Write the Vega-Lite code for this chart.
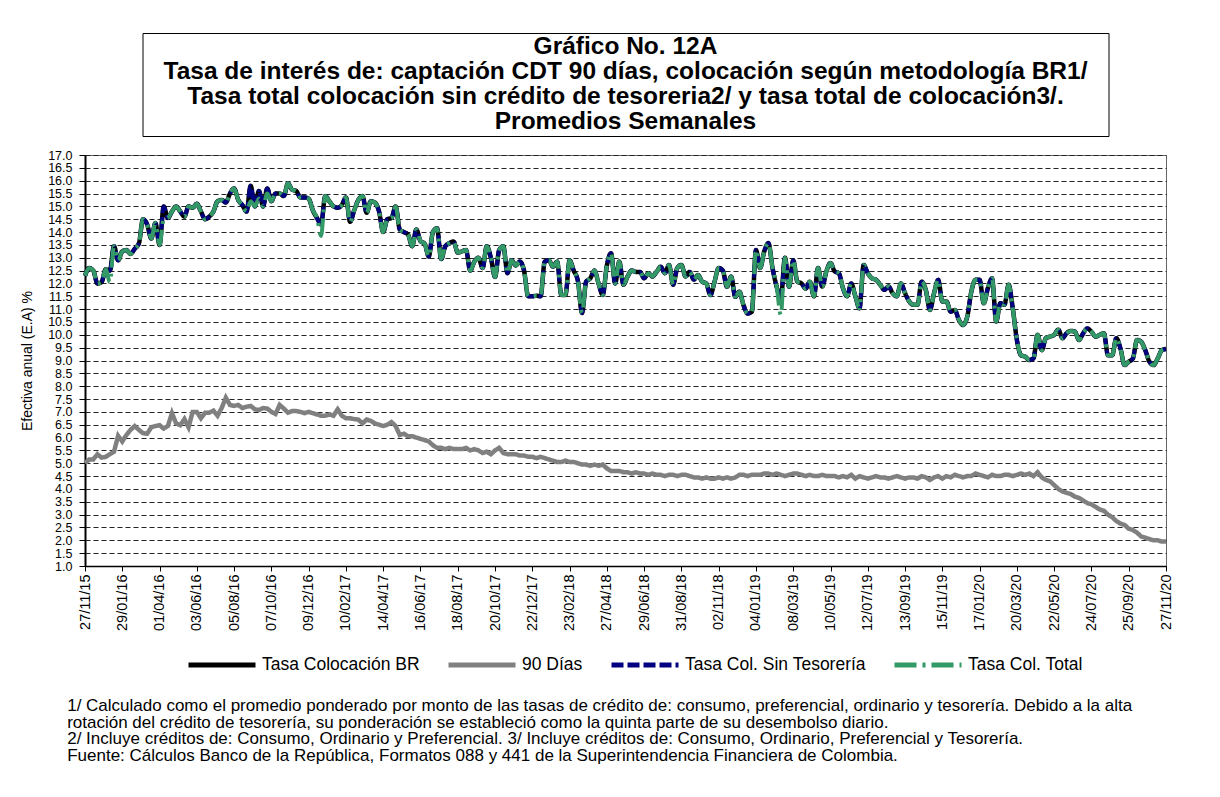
{
  "$schema": "https://vega.github.io/schema/vega-lite/v6.json",
  "padding": {"left": 20, "top": 32, "right": 5, "bottom": 5},
  "background": "white",
  "config": {"font": "Liberation Sans", "view": {"stroke": null}},
  "title": {
    "text": [
      "1/ Calculado como el promedio ponderado por monto de las tasas de crédito de: consumo, preferencial, ordinario y tesorería.  Debido a la alta",
      "rotación del crédito de tesorería,  su ponderación se estableció como la quinta parte de su desembolso diario.",
      "2/ Incluye créditos de: Consumo, Ordinario y Preferencial.   3/ Incluye créditos de: Consumo, Ordinario, Preferencial y Tesorería.",
      "Fuente: Cálculos Banco de la República, Formatos 088 y 441 de la Superintendencia Financiera de Colombia."
    ],
    "orient": "bottom", "anchor": "start", "fontSize": 17, "fontWeight": "normal",
    "lineHeight": 16.7, "offset": 23, "dx": 47, "color": "black", "font": "Liberation Sans"
  },
  "vconcat": [
    {
      "width": 966, "height": 103,
      "view": {"stroke": "black", "strokeWidth": 1},
      "data": {"values": [{"k": 1}]},
      "mark": {
        "type": "text",
        "text": ["Gráfico No. 12A", "Tasa de interés de: captación CDT 90 días,  colocación según metodología BR1/", "Tasa total colocación sin crédito de tesoreria2/ y tasa total de colocación3/.", "Promedios Semanales"],
        "align": "center", "baseline": "middle", "fontSize": 24.5, "fontWeight": "bold",
        "lineHeight": 25, "dy": -37.5, "font": "Liberation Sans", "color": "black"
      },
      "encoding": {}
    },
    {
      "width": 1081, "height": 411,
      "view": {"stroke": "#666", "strokeWidth": 1},
      "data": {"values": [
{"d":"2015-11-27","br":12.3,"st":12.3,"tot":12.3,"n":5.0},
{"d":"2015-12-04","br":12.6,"st":12.6,"tot":12.6,"n":5.15},
{"d":"2015-12-11","br":12.5,"st":12.5,"tot":12.5,"n":5.15},
{"d":"2015-12-18","br":12.0,"st":12.0,"tot":12.0,"n":5.35},
{"d":"2015-12-25","br":12.05,"st":12.05,"tot":12.05,"n":5.22},
{"d":"2016-01-01","br":12.55,"st":12.55,"tot":12.55,"n":5.25},
{"d":"2016-01-08","br":12.5,"st":12.5,"tot":12.05,"n":5.35},
{"d":"2016-01-15","br":13.45,"st":13.45,"tot":13.45,"n":5.45},
{"d":"2016-01-22","br":12.9,"st":12.9,"tot":12.9,"n":6.07},
{"d":"2016-01-29","br":13.25,"st":13.25,"tot":13.25,"n":5.85},
{"d":"2016-02-05","br":13.3,"st":13.3,"tot":13.3,"n":6.1},
{"d":"2016-02-12","br":13.15,"st":13.15,"tot":13.15,"n":6.3},
{"d":"2016-02-19","br":13.35,"st":13.35,"tot":13.35,"n":6.45},
{"d":"2016-02-26","br":13.55,"st":13.55,"tot":13.55,"n":6.3},
{"d":"2016-03-04","br":14.5,"st":14.5,"tot":14.5,"n":6.17},
{"d":"2016-03-11","br":14.3,"st":14.3,"tot":14.3,"n":6.15},
{"d":"2016-03-18","br":13.75,"st":13.75,"tot":13.75,"n":6.4},
{"d":"2016-03-25","br":14.35,"st":14.35,"tot":14.35,"n":6.45},
{"d":"2016-04-01","br":13.5,"st":13.5,"tot":13.5,"n":6.48},
{"d":"2016-04-08","br":15.0,"st":15.0,"tot":14.5,"n":6.35},
{"d":"2016-04-15","br":14.55,"st":14.55,"tot":14.55,"n":6.45},
{"d":"2016-04-22","br":14.8,"st":14.8,"tot":14.8,"n":6.95},
{"d":"2016-04-29","br":15.0,"st":15.0,"tot":15.0,"n":6.55},
{"d":"2016-05-06","br":14.8,"st":14.8,"tot":14.8,"n":6.48},
{"d":"2016-05-13","br":14.6,"st":14.6,"tot":14.6,"n":6.72},
{"d":"2016-05-20","br":15.0,"st":15.0,"tot":15.0,"n":6.4},
{"d":"2016-05-27","br":14.95,"st":14.95,"tot":14.95,"n":7.0},
{"d":"2016-06-03","br":15.1,"st":15.1,"tot":15.1,"n":7.0},
{"d":"2016-06-10","br":14.8,"st":14.8,"tot":14.8,"n":6.75},
{"d":"2016-06-17","br":14.5,"st":14.5,"tot":14.5,"n":6.97},
{"d":"2016-06-24","br":14.6,"st":14.6,"tot":14.6,"n":6.97},
{"d":"2016-07-01","br":14.8,"st":14.8,"tot":14.8,"n":7.05},
{"d":"2016-07-08","br":15.2,"st":15.2,"tot":15.2,"n":6.85},
{"d":"2016-07-15","br":15.25,"st":15.25,"tot":15.25,"n":7.15},
{"d":"2016-07-22","br":15.15,"st":15.15,"tot":15.15,"n":7.55},
{"d":"2016-07-29","br":15.5,"st":15.5,"tot":15.5,"n":7.27},
{"d":"2016-08-05","br":15.7,"st":15.7,"tot":15.7,"n":7.23},
{"d":"2016-08-12","br":15.25,"st":15.25,"tot":15.25,"n":7.27},
{"d":"2016-08-19","br":15.05,"st":15.05,"tot":15.05,"n":7.15},
{"d":"2016-08-26","br":14.8,"st":14.8,"tot":14.8,"n":7.2},
{"d":"2016-09-02","br":15.8,"st":15.8,"tot":15.2,"n":7.23},
{"d":"2016-09-09","br":15.0,"st":15.0,"tot":15.0,"n":7.1},
{"d":"2016-09-16","br":15.6,"st":15.6,"tot":15.3,"n":7.07},
{"d":"2016-09-23","br":15.0,"st":15.0,"tot":15.0,"n":7.15},
{"d":"2016-09-30","br":15.7,"st":15.7,"tot":15.5,"n":7.13},
{"d":"2016-10-07","br":15.2,"st":15.2,"tot":15.2,"n":7.0},
{"d":"2016-10-14","br":15.5,"st":15.5,"tot":15.5,"n":6.92},
{"d":"2016-10-21","br":15.5,"st":15.5,"tot":15.5,"n":7.27},
{"d":"2016-10-28","br":15.4,"st":15.4,"tot":15.4,"n":7.13},
{"d":"2016-11-04","br":15.9,"st":15.9,"tot":15.9,"n":6.97},
{"d":"2016-11-11","br":15.65,"st":15.65,"tot":15.65,"n":7.03},
{"d":"2016-11-18","br":15.6,"st":15.6,"tot":15.6,"n":7.03},
{"d":"2016-11-25","br":15.35,"st":15.35,"tot":15.35,"n":7.0},
{"d":"2016-12-02","br":15.35,"st":15.35,"tot":15.35,"n":6.95},
{"d":"2016-12-09","br":15.3,"st":15.3,"tot":15.3,"n":7.0},
{"d":"2016-12-16","br":14.85,"st":14.85,"tot":14.85,"n":6.95},
{"d":"2016-12-23","br":14.55,"st":14.55,"tot":14.55,"n":6.9},
{"d":"2016-12-30","br":14.3,"st":14.3,"tot":13.85,"n":6.85},
{"d":"2017-01-06","br":15.4,"st":15.4,"tot":15.4,"n":6.85},
{"d":"2017-01-13","br":15.2,"st":15.2,"tot":15.2,"n":6.9},
{"d":"2017-01-20","br":15.0,"st":15.0,"tot":15.0,"n":6.85},
{"d":"2017-01-27","br":14.95,"st":14.95,"tot":14.95,"n":7.1},
{"d":"2017-02-03","br":15.05,"st":15.05,"tot":15.05,"n":6.85},
{"d":"2017-02-10","br":15.35,"st":15.35,"tot":15.35,"n":6.75},
{"d":"2017-02-17","br":14.4,"st":14.4,"tot":14.4,"n":6.75},
{"d":"2017-02-24","br":14.85,"st":14.85,"tot":14.85,"n":6.72},
{"d":"2017-03-03","br":15.25,"st":15.25,"tot":15.25,"n":6.7},
{"d":"2017-03-10","br":15.4,"st":15.4,"tot":15.4,"n":6.55},
{"d":"2017-03-17","br":14.75,"st":14.75,"tot":14.75,"n":6.7},
{"d":"2017-03-24","br":15.2,"st":15.2,"tot":15.2,"n":6.65},
{"d":"2017-03-31","br":15.15,"st":15.15,"tot":15.15,"n":6.55},
{"d":"2017-04-07","br":14.8,"st":14.8,"tot":14.8,"n":6.5},
{"d":"2017-04-14","br":14.0,"st":14.0,"tot":14.0,"n":6.45},
{"d":"2017-04-21","br":14.5,"st":14.5,"tot":14.5,"n":6.5},
{"d":"2017-04-28","br":14.55,"st":14.55,"tot":14.55,"n":6.6},
{"d":"2017-05-05","br":15.0,"st":15.0,"tot":15.0,"n":6.45},
{"d":"2017-05-12","br":14.1,"st":14.1,"tot":14.1,"n":6.1},
{"d":"2017-05-19","br":14.0,"st":14.0,"tot":14.0,"n":6.15},
{"d":"2017-05-26","br":13.9,"st":13.9,"tot":13.9,"n":6.05},
{"d":"2017-06-02","br":13.45,"st":13.45,"tot":13.45,"n":6.05},
{"d":"2017-06-09","br":14.1,"st":14.1,"tot":14.1,"n":6.0},
{"d":"2017-06-16","br":13.65,"st":13.65,"tot":13.65,"n":5.95},
{"d":"2017-06-23","br":13.55,"st":13.55,"tot":13.55,"n":5.9},
{"d":"2017-06-30","br":13.05,"st":13.05,"tot":13.05,"n":5.85},
{"d":"2017-07-07","br":14.0,"st":14.0,"tot":14.0,"n":5.7},
{"d":"2017-07-14","br":14.15,"st":14.15,"tot":14.15,"n":5.6},
{"d":"2017-07-21","br":12.95,"st":12.95,"tot":12.95,"n":5.6},
{"d":"2017-07-28","br":13.45,"st":13.45,"tot":13.45,"n":5.55},
{"d":"2017-08-04","br":13.57,"st":13.57,"tot":13.57,"n":5.6},
{"d":"2017-08-11","br":13.63,"st":13.63,"tot":13.63,"n":5.55},
{"d":"2017-08-18","br":13.2,"st":13.2,"tot":13.2,"n":5.55},
{"d":"2017-08-25","br":13.25,"st":13.25,"tot":13.25,"n":5.55},
{"d":"2017-09-01","br":13.3,"st":13.3,"tot":13.3,"n":5.6},
{"d":"2017-09-08","br":12.5,"st":12.5,"tot":12.5,"n":5.5},
{"d":"2017-09-15","br":12.85,"st":12.85,"tot":12.85,"n":5.55},
{"d":"2017-09-22","br":13.0,"st":13.0,"tot":13.0,"n":5.5},
{"d":"2017-09-29","br":12.6,"st":12.6,"tot":12.6,"n":5.4},
{"d":"2017-10-06","br":13.45,"st":13.45,"tot":13.45,"n":5.45},
{"d":"2017-10-13","br":13.0,"st":13.0,"tot":13.0,"n":5.35},
{"d":"2017-10-20","br":12.25,"st":12.25,"tot":12.25,"n":5.5},
{"d":"2017-10-27","br":13.3,"st":13.3,"tot":13.3,"n":5.6},
{"d":"2017-11-03","br":13.45,"st":13.45,"tot":13.45,"n":5.4},
{"d":"2017-11-10","br":12.4,"st":12.4,"tot":12.4,"n":5.35},
{"d":"2017-11-17","br":12.9,"st":12.9,"tot":12.9,"n":5.35},
{"d":"2017-11-24","br":12.7,"st":12.7,"tot":12.7,"n":5.35},
{"d":"2017-12-01","br":12.85,"st":12.85,"tot":12.85,"n":5.3},
{"d":"2017-12-08","br":12.5,"st":12.5,"tot":12.5,"n":5.3},
{"d":"2017-12-15","br":11.5,"st":11.5,"tot":11.5,"n":5.25},
{"d":"2017-12-22","br":11.5,"st":11.5,"tot":11.5,"n":5.25},
{"d":"2017-12-29","br":11.52,"st":11.52,"tot":11.52,"n":5.2},
{"d":"2018-01-05","br":11.5,"st":11.5,"tot":11.5,"n":5.25},
{"d":"2018-01-12","br":12.85,"st":12.85,"tot":12.85,"n":5.2},
{"d":"2018-01-19","br":12.9,"st":12.9,"tot":12.9,"n":5.15},
{"d":"2018-01-26","br":12.65,"st":12.65,"tot":12.65,"n":5.1},
{"d":"2018-02-02","br":12.85,"st":12.85,"tot":12.85,"n":5.05},
{"d":"2018-02-09","br":11.55,"st":11.55,"tot":11.55,"n":5.05},
{"d":"2018-02-16","br":11.55,"st":11.55,"tot":11.55,"n":5.1},
{"d":"2018-02-23","br":12.9,"st":12.9,"tot":12.9,"n":5.05},
{"d":"2018-03-02","br":12.5,"st":12.5,"tot":12.5,"n":5.05},
{"d":"2018-03-09","br":12.1,"st":12.1,"tot":12.1,"n":5.0},
{"d":"2018-03-16","br":10.85,"st":10.85,"tot":10.85,"n":4.95},
{"d":"2018-03-23","br":12.07,"st":12.07,"tot":12.07,"n":4.95},
{"d":"2018-03-30","br":12.2,"st":12.2,"tot":12.2,"n":4.9},
{"d":"2018-04-06","br":12.5,"st":12.5,"tot":12.5,"n":4.95},
{"d":"2018-04-13","br":12.0,"st":12.0,"tot":12.0,"n":4.9},
{"d":"2018-04-20","br":11.55,"st":11.55,"tot":11.55,"n":4.95},
{"d":"2018-04-27","br":12.7,"st":12.7,"tot":12.7,"n":4.8},
{"d":"2018-05-04","br":13.18,"st":13.18,"tot":13.18,"n":4.7},
{"d":"2018-05-11","br":12.0,"st":12.0,"tot":12.0,"n":4.7},
{"d":"2018-05-18","br":12.85,"st":12.85,"tot":12.85,"n":4.7},
{"d":"2018-05-25","br":11.95,"st":11.95,"tot":11.95,"n":4.65},
{"d":"2018-06-01","br":12.27,"st":12.27,"tot":12.27,"n":4.65},
{"d":"2018-06-08","br":12.5,"st":12.5,"tot":12.5,"n":4.6},
{"d":"2018-06-15","br":12.45,"st":12.45,"tot":12.45,"n":4.65},
{"d":"2018-06-22","br":12.45,"st":12.45,"tot":12.45,"n":4.6},
{"d":"2018-06-29","br":12.2,"st":12.2,"tot":12.2,"n":4.6},
{"d":"2018-07-06","br":12.4,"st":12.4,"tot":12.4,"n":4.55},
{"d":"2018-07-13","br":12.27,"st":12.27,"tot":12.27,"n":4.6},
{"d":"2018-07-20","br":12.45,"st":12.45,"tot":12.45,"n":4.55},
{"d":"2018-07-27","br":12.65,"st":12.65,"tot":12.65,"n":4.55},
{"d":"2018-08-03","br":12.4,"st":12.4,"tot":12.4,"n":4.5},
{"d":"2018-08-10","br":12.72,"st":12.72,"tot":12.72,"n":4.55},
{"d":"2018-08-17","br":11.95,"st":11.95,"tot":11.95,"n":4.55},
{"d":"2018-08-24","br":12.6,"st":12.6,"tot":12.6,"n":4.5},
{"d":"2018-08-31","br":12.72,"st":12.72,"tot":12.72,"n":4.55},
{"d":"2018-09-07","br":12.27,"st":12.27,"tot":12.27,"n":4.55},
{"d":"2018-09-14","br":12.45,"st":12.45,"tot":12.45,"n":4.5},
{"d":"2018-09-21","br":12.15,"st":12.15,"tot":12.15,"n":4.45},
{"d":"2018-09-28","br":12.33,"st":12.33,"tot":12.33,"n":4.45},
{"d":"2018-10-05","br":12.07,"st":12.07,"tot":12.07,"n":4.4},
{"d":"2018-10-12","br":12.0,"st":12.0,"tot":12.0,"n":4.45},
{"d":"2018-10-19","br":11.55,"st":11.55,"tot":11.55,"n":4.4},
{"d":"2018-10-26","br":12.07,"st":12.07,"tot":12.07,"n":4.4},
{"d":"2018-11-02","br":12.6,"st":12.6,"tot":12.6,"n":4.45},
{"d":"2018-11-09","br":12.5,"st":12.5,"tot":12.5,"n":4.4},
{"d":"2018-11-16","br":11.87,"st":11.87,"tot":11.87,"n":4.45},
{"d":"2018-11-23","br":12.27,"st":12.27,"tot":12.27,"n":4.4},
{"d":"2018-11-30","br":11.48,"st":11.48,"tot":11.48,"n":4.45},
{"d":"2018-12-07","br":11.68,"st":11.68,"tot":11.68,"n":4.55},
{"d":"2018-12-14","br":11.15,"st":11.15,"tot":11.15,"n":4.55},
{"d":"2018-12-21","br":10.83,"st":10.83,"tot":10.83,"n":4.5},
{"d":"2018-12-28","br":10.9,"st":10.9,"tot":10.9,"n":4.55},
{"d":"2019-01-04","br":13.3,"st":13.3,"tot":13.3,"n":4.55},
{"d":"2019-01-11","br":12.6,"st":12.6,"tot":12.6,"n":4.55},
{"d":"2019-01-18","br":13.25,"st":13.25,"tot":13.25,"n":4.6},
{"d":"2019-01-25","br":13.57,"st":13.57,"tot":13.57,"n":4.6},
{"d":"2019-02-01","br":12.6,"st":12.6,"tot":12.6,"n":4.55},
{"d":"2019-02-08","br":11.87,"st":11.87,"tot":11.87,"n":4.6},
{"d":"2019-02-15","br":11.4,"st":11.4,"tot":10.77,"n":4.55},
{"d":"2019-02-22","br":13.0,"st":13.0,"tot":13.0,"n":4.5},
{"d":"2019-03-01","br":11.87,"st":11.87,"tot":11.87,"n":4.55},
{"d":"2019-03-08","br":12.9,"st":12.9,"tot":12.9,"n":4.6},
{"d":"2019-03-15","br":12.07,"st":12.07,"tot":12.07,"n":4.6},
{"d":"2019-03-22","br":12.0,"st":12.0,"tot":12.0,"n":4.55},
{"d":"2019-03-29","br":11.8,"st":11.8,"tot":11.8,"n":4.5},
{"d":"2019-04-05","br":12.07,"st":12.07,"tot":12.07,"n":4.55},
{"d":"2019-04-12","br":11.5,"st":11.5,"tot":11.5,"n":4.5},
{"d":"2019-04-19","br":12.6,"st":12.6,"tot":12.6,"n":4.5},
{"d":"2019-04-26","br":11.88,"st":11.88,"tot":11.88,"n":4.55},
{"d":"2019-05-03","br":12.47,"st":12.47,"tot":12.47,"n":4.5},
{"d":"2019-05-10","br":12.8,"st":12.8,"tot":12.8,"n":4.5},
{"d":"2019-05-17","br":12.47,"st":12.47,"tot":12.47,"n":4.5},
{"d":"2019-05-24","br":12.4,"st":12.4,"tot":12.4,"n":4.45},
{"d":"2019-05-31","br":11.82,"st":11.82,"tot":11.82,"n":4.5},
{"d":"2019-06-07","br":11.5,"st":11.5,"tot":11.5,"n":4.45},
{"d":"2019-06-14","br":12.0,"st":12.0,"tot":12.0,"n":4.55},
{"d":"2019-06-21","br":11.5,"st":11.5,"tot":11.5,"n":4.4},
{"d":"2019-06-28","br":11.03,"st":11.03,"tot":11.03,"n":4.5},
{"d":"2019-07-05","br":12.72,"st":12.72,"tot":12.72,"n":4.45},
{"d":"2019-07-12","br":12.4,"st":12.4,"tot":12.4,"n":4.4},
{"d":"2019-07-19","br":12.2,"st":12.2,"tot":12.2,"n":4.45},
{"d":"2019-07-26","br":12.14,"st":12.14,"tot":12.14,"n":4.5},
{"d":"2019-08-02","br":11.95,"st":11.95,"tot":11.95,"n":4.45},
{"d":"2019-08-09","br":11.75,"st":11.75,"tot":11.75,"n":4.45},
{"d":"2019-08-16","br":11.88,"st":11.88,"tot":11.88,"n":4.4},
{"d":"2019-08-23","br":11.62,"st":11.62,"tot":11.62,"n":4.45},
{"d":"2019-08-30","br":11.5,"st":11.5,"tot":11.5,"n":4.5},
{"d":"2019-09-06","br":12.0,"st":12.0,"tot":12.0,"n":4.45},
{"d":"2019-09-13","br":11.62,"st":11.62,"tot":11.62,"n":4.4},
{"d":"2019-09-20","br":11.3,"st":11.3,"tot":11.3,"n":4.45},
{"d":"2019-09-27","br":11.17,"st":11.17,"tot":11.17,"n":4.45},
{"d":"2019-10-04","br":11.17,"st":11.17,"tot":11.17,"n":4.4},
{"d":"2019-10-11","br":12.07,"st":12.07,"tot":12.07,"n":4.5},
{"d":"2019-10-18","br":11.75,"st":11.75,"tot":11.75,"n":4.45},
{"d":"2019-10-25","br":10.97,"st":10.97,"tot":10.97,"n":4.35},
{"d":"2019-11-01","br":11.62,"st":11.62,"tot":11.62,"n":4.45},
{"d":"2019-11-08","br":12.14,"st":12.14,"tot":12.14,"n":4.5},
{"d":"2019-11-15","br":11.3,"st":11.3,"tot":11.3,"n":4.4},
{"d":"2019-11-22","br":11.3,"st":11.3,"tot":11.3,"n":4.5},
{"d":"2019-11-29","br":10.9,"st":10.9,"tot":10.9,"n":4.45},
{"d":"2019-12-06","br":10.97,"st":10.97,"tot":10.97,"n":4.55},
{"d":"2019-12-13","br":10.58,"st":10.58,"tot":10.58,"n":4.5},
{"d":"2019-12-20","br":10.38,"st":10.38,"tot":10.38,"n":4.45},
{"d":"2019-12-27","br":10.7,"st":10.7,"tot":10.7,"n":4.5},
{"d":"2020-01-03","br":11.68,"st":11.68,"tot":11.68,"n":4.5},
{"d":"2020-01-10","br":12.14,"st":12.14,"tot":12.14,"n":4.6},
{"d":"2020-01-17","br":12.14,"st":12.14,"tot":12.14,"n":4.55},
{"d":"2020-01-24","br":11.23,"st":11.23,"tot":11.23,"n":4.5},
{"d":"2020-01-31","br":11.82,"st":11.82,"tot":11.82,"n":4.45},
{"d":"2020-02-07","br":12.2,"st":12.2,"tot":12.2,"n":4.55},
{"d":"2020-02-14","br":10.52,"st":10.52,"tot":10.52,"n":4.5},
{"d":"2020-02-21","br":11.23,"st":11.23,"tot":11.23,"n":4.5},
{"d":"2020-02-28","br":11.17,"st":11.17,"tot":11.17,"n":4.55},
{"d":"2020-03-06","br":11.95,"st":11.95,"tot":11.95,"n":4.55},
{"d":"2020-03-13","br":11.03,"st":11.03,"tot":11.03,"n":4.5},
{"d":"2020-03-20","br":9.8,"st":9.8,"tot":9.8,"n":4.55},
{"d":"2020-03-27","br":9.2,"st":9.2,"tot":9.2,"n":4.6},
{"d":"2020-04-03","br":9.15,"st":9.15,"tot":9.15,"n":4.55},
{"d":"2020-04-10","br":9.02,"st":9.02,"tot":9.02,"n":4.6},
{"d":"2020-04-17","br":9.08,"st":9.08,"tot":9.08,"n":4.5},
{"d":"2020-04-24","br":10.0,"st":10.0,"tot":10.0,"n":4.65},
{"d":"2020-05-01","br":9.4,"st":9.4,"tot":9.4,"n":4.45},
{"d":"2020-05-08","br":9.87,"st":9.87,"tot":9.87,"n":4.35},
{"d":"2020-05-15","br":9.93,"st":9.93,"tot":9.93,"n":4.3},
{"d":"2020-05-22","br":10.0,"st":10.0,"tot":10.0,"n":4.15},
{"d":"2020-05-29","br":10.2,"st":10.2,"tot":10.2,"n":4.0},
{"d":"2020-06-05","br":9.87,"st":9.87,"tot":9.87,"n":3.9},
{"d":"2020-06-12","br":10.06,"st":10.06,"tot":10.06,"n":3.85},
{"d":"2020-06-19","br":10.15,"st":10.15,"tot":10.15,"n":3.8},
{"d":"2020-06-26","br":10.12,"st":10.12,"tot":10.12,"n":3.7},
{"d":"2020-07-03","br":9.8,"st":9.8,"tot":9.8,"n":3.65},
{"d":"2020-07-10","br":10.06,"st":10.06,"tot":10.06,"n":3.55},
{"d":"2020-07-17","br":10.25,"st":10.25,"tot":10.25,"n":3.45},
{"d":"2020-07-24","br":10.12,"st":10.12,"tot":10.12,"n":3.4},
{"d":"2020-07-31","br":9.93,"st":9.93,"tot":9.93,"n":3.3},
{"d":"2020-08-07","br":10.0,"st":10.0,"tot":10.0,"n":3.2},
{"d":"2020-08-14","br":10.06,"st":10.06,"tot":10.06,"n":3.15},
{"d":"2020-08-21","br":9.2,"st":9.2,"tot":9.2,"n":3.0},
{"d":"2020-08-28","br":9.2,"st":9.2,"tot":9.2,"n":2.9},
{"d":"2020-09-04","br":9.87,"st":9.87,"tot":9.87,"n":2.75},
{"d":"2020-09-11","br":9.47,"st":9.47,"tot":9.47,"n":2.65},
{"d":"2020-09-18","br":8.82,"st":8.82,"tot":8.82,"n":2.6},
{"d":"2020-09-25","br":8.95,"st":8.95,"tot":8.95,"n":2.45},
{"d":"2020-10-02","br":9.08,"st":9.08,"tot":9.08,"n":2.4},
{"d":"2020-10-09","br":9.8,"st":9.8,"tot":9.8,"n":2.3},
{"d":"2020-10-16","br":9.73,"st":9.73,"tot":9.73,"n":2.15},
{"d":"2020-10-23","br":9.4,"st":9.4,"tot":9.4,"n":2.1},
{"d":"2020-10-30","br":8.95,"st":8.95,"tot":8.95,"n":2.05},
{"d":"2020-11-06","br":8.82,"st":8.82,"tot":8.82,"n":2.0},
{"d":"2020-11-13","br":9.08,"st":9.08,"tot":9.08,"n":2.0},
{"d":"2020-11-20","br":9.4,"st":9.4,"tot":9.4,"n":1.95},
{"d":"2020-11-27","br":9.45,"st":9.45,"tot":9.45,"n":1.95}
      ]},
      "transform": [{"fold": ["br", "n", "st", "tot"], "as": ["s", "v"]}],
      "encoding": {
        "x": {
          "field": "d", "type": "temporal",
          "scale": {"type": "utc", "domain": [{"year": 2015, "month": 11, "date": 27, "utc": true}, {"year": 2020, "month": 11, "date": 27, "utc": true}], "nice": false},
          "axis": {
            "title": null, "format": "%d/%m/%y", "labelAngle": -90, "labelFontSize": 14.5, "labelColor": "black",
            "labelFont": "Liberation Sans", "labelPadding": 3, "grid": false, "domainColor": "black", "domainWidth": 1.5,
            "tickColor": "black", "tickSize": 5, "labelOverlap": false, "labelBound": false, "labelFlush": false,
            "values": [
              {"year":2015,"month":11,"date":27,"utc":true},{"year":2016,"month":1,"date":29,"utc":true},{"year":2016,"month":4,"date":1,"utc":true},
              {"year":2016,"month":6,"date":3,"utc":true},{"year":2016,"month":8,"date":5,"utc":true},{"year":2016,"month":10,"date":7,"utc":true},
              {"year":2016,"month":12,"date":9,"utc":true},{"year":2017,"month":2,"date":10,"utc":true},{"year":2017,"month":4,"date":14,"utc":true},
              {"year":2017,"month":6,"date":16,"utc":true},{"year":2017,"month":8,"date":18,"utc":true},{"year":2017,"month":10,"date":20,"utc":true},
              {"year":2017,"month":12,"date":22,"utc":true},{"year":2018,"month":2,"date":23,"utc":true},{"year":2018,"month":4,"date":27,"utc":true},
              {"year":2018,"month":6,"date":29,"utc":true},{"year":2018,"month":8,"date":31,"utc":true},{"year":2018,"month":11,"date":2,"utc":true},
              {"year":2019,"month":1,"date":4,"utc":true},{"year":2019,"month":3,"date":8,"utc":true},{"year":2019,"month":5,"date":10,"utc":true},
              {"year":2019,"month":7,"date":12,"utc":true},{"year":2019,"month":9,"date":13,"utc":true},{"year":2019,"month":11,"date":15,"utc":true},
              {"year":2020,"month":1,"date":17,"utc":true},{"year":2020,"month":3,"date":20,"utc":true},{"year":2020,"month":5,"date":22,"utc":true},
              {"year":2020,"month":7,"date":24,"utc":true},{"year":2020,"month":9,"date":25,"utc":true},{"year":2020,"month":11,"date":27,"utc":true}
            ]
          }
        },
        "y": {
          "field": "v", "type": "quantitative",
          "scale": {"domain": [1, 17], "nice": false, "zero": false},
          "axis": {
            "title": "Efectiva anual (E.A) %", "titleFontWeight": "normal", "titleFontSize": 14, "titleColor": "black",
            "titleFont": "Liberation Sans", "titlePadding": 13,
            "values": [1,1.5,2,2.5,3,3.5,4,4.5,5,5.5,6,6.5,7,7.5,8,8.5,9,9.5,10,10.5,11,11.5,12,12.5,13,13.5,14,14.5,15,15.5,16,16.5,17],
            "format": ".1f", "labelFontSize": 12.5, "labelColor": "black", "labelFont": "Liberation Sans", "labelPadding": 7,
            "domainColor": "black", "domainWidth": 2, "tickColor": "black", "tickSize": 6,
            "grid": true, "gridColor": "#222", "gridDash": [5, 3], "gridWidth": 1, "labelOverlap": false, "labelBound": false, "labelFlush": false
          }
        },
        "color": {
          "field": "s", "type": "nominal",
          "scale": {"domain": ["br", "n", "st", "tot"], "range": ["#000000", "#808080", "#000080", "#339966"]},
          "legend": {
            "title": null, "orient": "none", "legendX": 101, "legendY": 596, "direction": "horizontal", "symbolType": "stroke",
            "symbolSize": 4489, "symbolStrokeWidth": 5, "labelFontSize": 17.5, "labelFont": "Liberation Sans",
            "labelColor": "black", "labelLimit": 300, "columnPadding": 18, "labelOffset": 4,
            "labelExpr": "{'br': 'Tasa Colocación BR', 'n': '90 Días', 'st': 'Tasa Col. Sin Tesorería', 'tot': 'Tasa Col. Total'}[datum.label]"
          }
        },
        "strokeDash": {
          "field": "s", "type": "nominal",
          "scale": {"domain": ["br", "n", "st", "tot"], "range": [[1, 0], [1, 0], [12, 4], [22, 6, 3, 6]]},
          "legend": {
            "title": null, "orient": "none", "legendX": 101, "legendY": 596, "direction": "horizontal", "symbolType": "stroke",
            "symbolSize": 4489, "symbolStrokeWidth": 5, "labelFontSize": 17.5, "labelFont": "Liberation Sans",
            "labelColor": "black", "labelLimit": 300, "columnPadding": 18, "labelOffset": 4,
            "labelExpr": "{'br': 'Tasa Colocación BR', 'n': '90 Días', 'st': 'Tasa Col. Sin Tesorería', 'tot': 'Tasa Col. Total'}[datum.label]"
          }
        }
      },
      "layer": [
        {"transform": [{"filter": "datum.s == 'br'"}], "mark": {"type": "line", "strokeWidth": 4.5, "interpolate": "monotone"}},
        {"transform": [{"filter": "datum.s == 'n'"}], "mark": {"type": "line", "strokeWidth": 4.5}},
        {"transform": [{"filter": "datum.s == 'st'"}], "mark": {"type": "line", "strokeWidth": 4, "interpolate": "monotone"}},
        {"transform": [{"filter": "datum.s == 'tot'"}], "mark": {"type": "line", "strokeWidth": 4, "interpolate": "monotone"}}
      ]
    }
  ],
  "spacing": 19,
  "bounds": "flush",
  "center": true
}
